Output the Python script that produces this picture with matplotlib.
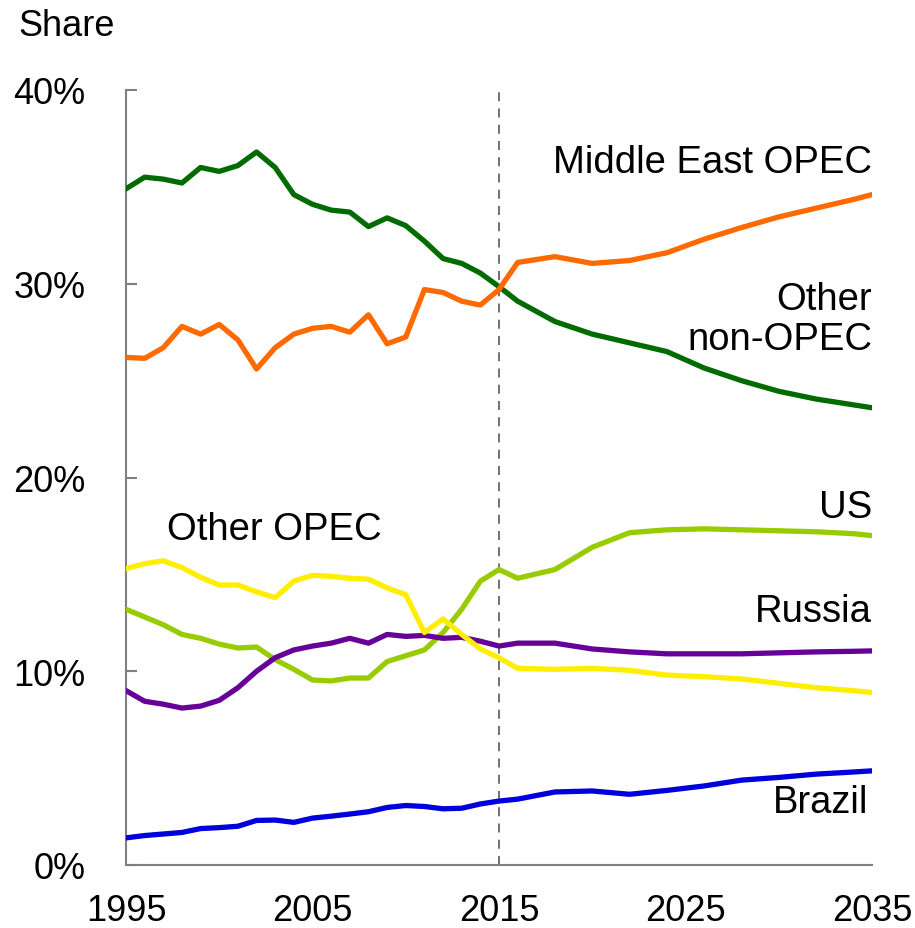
import matplotlib
matplotlib.use("Agg")
import matplotlib.pyplot as plt

years = list(range(1995, 2016)) + [2016, 2018, 2020, 2022, 2024, 2026, 2028, 2030, 2032, 2034, 2035]

other_non_opec = [34.9, 35.5, 35.4, 35.2, 36.0, 35.8, 36.1, 36.8, 36.0, 34.6, 34.1, 33.8, 33.7, 32.95, 33.4, 33.0, 32.2, 31.3, 31.05, 30.55, 29.85,
                  29.1, 28.05, 27.4, 26.95, 26.5, 25.65, 25.0, 24.45, 24.05, 23.75, 23.6]
middle_east_opec = [26.2, 26.15, 26.7, 27.8, 27.4, 27.9, 27.1, 25.6, 26.7, 27.4, 27.7, 27.8, 27.5, 28.4, 26.9, 27.25, 29.7, 29.55, 29.1, 28.9, 29.7,
                    31.1, 31.4, 31.05, 31.2, 31.6, 32.3, 32.9, 33.45, 33.9, 34.35, 34.6]
us = [13.2, 12.8, 12.4, 11.9, 11.7, 11.4, 11.2, 11.25, 10.6, 10.1, 9.55, 9.5, 9.65, 9.65, 10.5, 10.8, 11.1, 12.0, 13.2, 14.65, 15.25,
      14.8, 15.25, 16.4, 17.15, 17.3, 17.35, 17.3, 17.25, 17.2, 17.1, 17.0]
russia = [9.0, 8.45, 8.3, 8.1, 8.2, 8.5, 9.15, 10.0, 10.7, 11.1, 11.3, 11.45, 11.7, 11.45, 11.9, 11.8, 11.85, 11.7, 11.75, 11.55, 11.3,
          11.45, 11.45, 11.15, 11.0, 10.9, 10.9, 10.9, 10.95, 11.0, 11.03, 11.05]
other_opec = [15.3, 15.55, 15.7, 15.35, 14.85, 14.45, 14.45, 14.1, 13.8, 14.65, 14.95, 14.9, 14.8, 14.75, 14.3, 13.95, 12.0, 12.7, 11.9, 11.15, 10.7,
              10.15, 10.1, 10.15, 10.05, 9.8, 9.72, 9.6, 9.38, 9.15, 9.0, 8.9]
brazil = [1.4, 1.52, 1.6, 1.68, 1.88, 1.93, 2.0, 2.3, 2.32, 2.2, 2.42, 2.52, 2.63, 2.75, 2.97, 3.07, 3.02, 2.9, 2.93, 3.15, 3.3,
          3.4, 3.77, 3.82, 3.65, 3.85, 4.08, 4.38, 4.52, 4.69, 4.8, 4.86]

xticks = [1995, 2005, 2015, 2025, 2035]
yticks = [0, 10, 20, 30, 40]
ytick_labels = ["0%", "10%", "20%", "30%", "40%"]

plt.rcParams['font.family'] = ['Liberation Sans', 'DejaVu Sans']

fig = plt.figure(figsize=(9.15, 9.29), dpi=100)
ax = fig.add_axes([126/915, 63/929, (872-126)/915, (866-91)/929])

lw = 3.8
ax.plot(years, other_non_opec, color='#006B00', lw=lw, zorder=3)
ax.plot(years, middle_east_opec, color='#FF6A00', lw=lw, zorder=4)
ax.plot(years, us, color='#99CC00', lw=lw, zorder=3)
ax.plot(years, russia, color='#660099', lw=lw, zorder=3)
ax.plot(years, other_opec, color='#FFEE00', lw=lw, zorder=4)
ax.plot(years, brazil, color='#0000DD', lw=lw, zorder=3)

ax.axvline(2015, color='#666666', lw=1.3, ls=(0, (5, 4)), zorder=2)

ax.set_xlim(1995, 2035)
ax.set_ylim(0, 40)
ax.set_xticks(xticks)
ax.set_xticklabels([str(x) for x in xticks])
ax.set_yticks(yticks)
ax.set_yticklabels(ytick_labels)

for s in ['top', 'right']:
    ax.spines[s].set_visible(False)
for s in ['left', 'bottom']:
    ax.spines[s].set_color('#808080')
    ax.spines[s].set_linewidth(1.5)

ax.tick_params(axis='y', direction='in', length=8, width=1.5, color='#808080', labelsize=26, pad=29)
ax.tick_params(axis='x', length=0, labelsize=26, pad=20)

fs = 27.5
ax.text(2035, 36.3, "Middle East OPEC", ha='right', va='center', fontsize=fs)
ax.text(2035, 28.2, "Other\nnon-OPEC", ha='right', va='center', fontsize=fs, linespacing=1.15)
ax.text(2035, 18.5, "US", ha='right', va='center', fontsize=fs)
ax.text(2035, 13.1, "Russia", ha='right', va='center', fontsize=fs)
ax.text(2034.8, 3.25, "Brazil", ha='right', va='center', fontsize=fs)
ax.text(1997.2, 17.35, "Other OPEC", ha='left', va='center', fontsize=fs)

fig.text(18/915, 1 - 27/929, "Share", ha='left', va='center', fontsize=26)

fig.savefig("out.png", dpi=100)
